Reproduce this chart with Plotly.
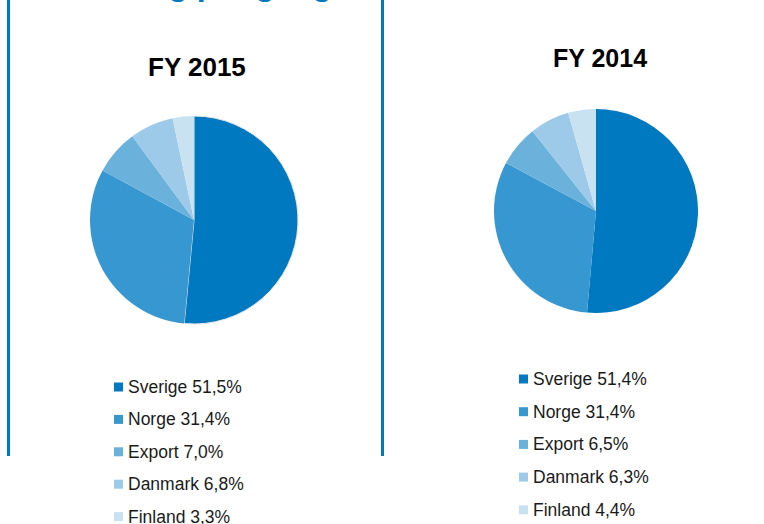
import plotly.graph_objects as go

W, H = 764, 524

regions = ["Sverige", "Norge", "Export", "Danmark", "Finland"]
share_2015 = [51.5, 31.4, 7.0, 6.8, 3.3]
share_2014 = [51.4, 31.4, 6.5, 6.3, 4.4]
colors = ["#0079c1", "#3797d1", "#6ab2db", "#9ccae8", "#c9e2f2"]

FONT = "Liberation Sans, Arial, sans-serif"
BLUE = "#0079c1"


def px(x):
    return x / W


def py(y):
    return 1 - y / H


def label(name, val):
    return f"{name} {val:.1f}%".replace(".", ",")


fig = go.Figure()

# FY 2015 pie (left panel)
fig.add_trace(go.Pie(
    labels=regions,
    values=share_2015,
    sort=False,
    direction="clockwise",
    rotation=0,
    marker=dict(colors=colors, line=dict(color="#e8e8e8", width=[1, 0, 0, 0, 0])),
    textinfo="none",
    hovertemplate="%{label}: %{value:.1f}%<extra>FY 2015</extra>",
    domain=dict(x=[px(90), px(298)], y=[py(324), py(116)]),
    showlegend=False,
))

# FY 2014 pie (right)
fig.add_trace(go.Pie(
    labels=regions,
    values=share_2014,
    sort=False,
    direction="clockwise",
    rotation=0,
    marker=dict(colors=colors, line=dict(width=0)),
    textinfo="none",
    hovertemplate="%{label}: %{value:.1f}%<extra>FY 2014</extra>",
    domain=dict(x=[px(494), px(698)], y=[py(313), py(109)]),
    showlegend=False,
))

annotations = [
    # page heading, mostly cut off at the top edge
    dict(text="<b>Omsättning per geografi</b>", x=px(8), y=py(4),
         xanchor="left", yanchor="bottom",
         font=dict(family=FONT, size=32, color=BLUE)),
    dict(text="<b>FY 2015</b>", x=px(197), y=py(67), xanchor="center", yanchor="middle",
         font=dict(family=FONT, size=26, color="#000000")),
    dict(text="<b>FY 2014</b>", x=px(600), y=py(58), xanchor="center", yanchor="middle",
         font=dict(family=FONT, size=25, color="#000000")),
]
shapes = [
    dict(type="line", x0=px(8.5), x1=px(8.5), y0=py(0), y1=py(456),
         line=dict(color=BLUE, width=3)),
    dict(type="line", x0=px(382.5), x1=px(382.5), y0=py(0), y1=py(456),
         line=dict(color=BLUE, width=3)),
]

# hand-placed legends under each pie
for values, sq_x, y0, step in [(share_2015, 114, 387, 32.4), (share_2014, 519, 379, 32.7)]:
    for i, (name, val) in enumerate(zip(regions, values)):
        yc = y0 + i * step
        shapes.append(dict(type="rect", x0=px(sq_x), x1=px(sq_x + 9),
                           y0=py(yc + 4.5), y1=py(yc - 4.5),
                           fillcolor=colors[i], line=dict(width=0)))
        annotations.append(dict(text=label(name, val), x=px(sq_x + 12), y=py(yc),
                                xanchor="left", yanchor="middle",
                                font=dict(family=FONT, size=17.5, color="#1a1a1a")))

for a in annotations:
    a.update(xref="paper", yref="paper", showarrow=False)
for s in shapes:
    s.update(xref="paper", yref="paper")

fig.update_layout(
    width=W,
    height=H,
    margin=dict(l=0, r=0, t=0, b=0),
    paper_bgcolor="white",
    plot_bgcolor="white",
    annotations=annotations,
    shapes=shapes,
)

# drop the page's default body margin so the figure sits at the window corner
fig.write_html(
    "out.html",
    config={"displayModeBar": False},
    post_script="document.body.style.margin = '0';",
)
